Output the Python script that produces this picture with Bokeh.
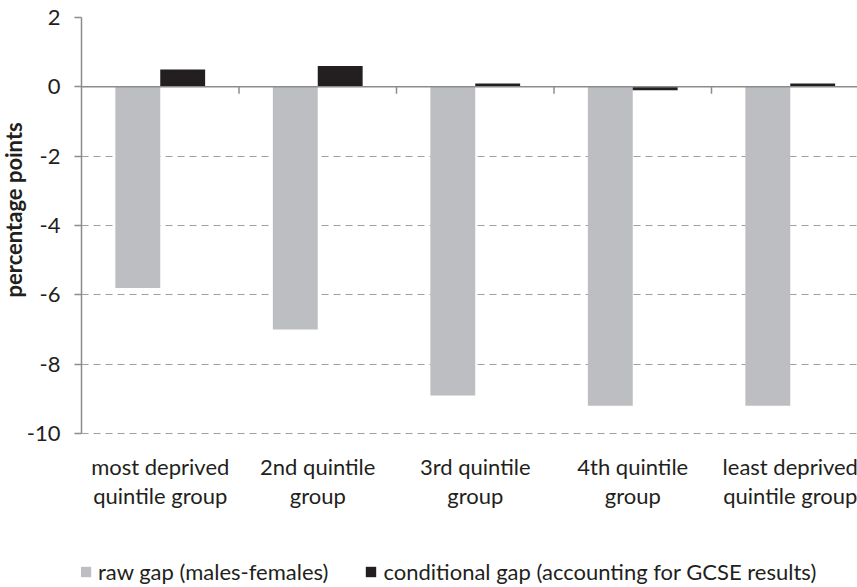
import numpy as np
from bokeh.plotting import figure
from bokeh.models import Range1d, FixedTicker, Legend, LegendItem, Span, Title
from bokeh.core.properties import value
from bokeh.embed import file_html
from bokeh.resources import INLINE

categories = ["most deprived\nquintile group", "2nd quintile\ngroup", "3rd quintile\ngroup",
              "4th quintile\ngroup", "least deprived\nquintile group"]
raw_gap = [-5.8, -7.0, -8.9, -9.2, -9.2]
conditional_gap = [0.5, 0.6, 0.1, -0.1, 0.1]
y_ticks = [-10, -8, -6, -4, -2, 0, 2]
series_names = ["raw gap (males-females)", "conditional gap (accounting for GCSE results)"]

FONT = "Lato"
TXT = "#231F20"
GRAY = "#BDBEC1"
BLACK = "#231F20"
AXIS = "#8C8C8C"

n = len(categories)
centers = np.arange(n) + 0.5
bw = 0.285

p = figure(width=857, height=587, output_backend="svg", toolbar_location=None,
           x_range=Range1d(0, 4.927), y_range=Range1d(-14.44, 2),
           min_border_left=80, min_border_right=0, min_border_top=17, min_border_bottom=0)
p.outline_line_color = None
p.background_fill_color = "white"
p.border_fill_color = "white"
p.xaxis.visible = False

# grid
p.xgrid.grid_line_color = None
p.ygrid.ticker = FixedTicker(ticks=[t for t in y_ticks if t != 0])
p.ygrid.grid_line_color = "#A0A0A0"
p.ygrid.grid_line_dash = "7 5"
p.ygrid.grid_line_width = 1

r_raw = p.vbar(x=centers - bw / 2, width=bw, top=raw_gap, bottom=0,
               fill_color=GRAY, line_color=None)
r_cond = p.vbar(x=centers + bw / 2, width=bw, top=conditional_gap, bottom=0,
                fill_color=BLACK, line_color=None)

# zero axis line with category boundary ticks
p.add_layout(Span(location=0, dimension="width", line_color=AXIS, line_width=1.5))
bounds = np.arange(1, n)
p.segment(x0=bounds, y0=np.zeros(len(bounds)), x1=bounds, y1=np.full(len(bounds), -0.2),
          line_color=AXIS, line_width=1.5)

# category labels
p.text(x=centers, y=np.full(n, -10.55), text=categories, text_align="center",
       text_baseline="top", text_font=value(FONT), text_font_size="22px",
       text_color=TXT, text_line_height=1.1)

# y axis
yax = p.yaxis[0]
yax.ticker = FixedTicker(ticks=y_ticks)
yax.bounds = (-10, 2)
yax.major_label_overrides = {t: str(t) for t in y_ticks}
yax.axis_line_color = AXIS
yax.axis_line_width = 1.5
yax.major_tick_line_color = AXIS
yax.major_tick_line_width = 1.5
yax.major_tick_out = 7
yax.major_tick_in = 0
yax.minor_tick_line_color = None
yax.major_label_text_font = FONT
yax.major_label_text_font_size = "22px"
yax.major_label_text_color = TXT
yax.major_label_standoff = 14

# y label
p.add_layout(Title(text="percentage points", align="left", offset=290,
                   text_font=FONT, text_font_size="22px", text_font_style="bold",
                   text_color=TXT, standoff=-6), "left")

legend = Legend(items=[LegendItem(label=series_names[0], renderers=[r_raw]),
                       LegendItem(label=series_names[1], renderers=[r_cond])],
                orientation="horizontal", location=(-2, 2),
                glyph_width=13, glyph_height=13, label_standoff=6, spacing=36,
                label_text_font=FONT, label_text_font_size="22px", label_text_color=TXT,
                border_line_color=None, background_fill_alpha=0, margin=0, padding=0)
p.add_layout(legend, "center")

open("out.html", "w").write(file_html(p, INLINE))
